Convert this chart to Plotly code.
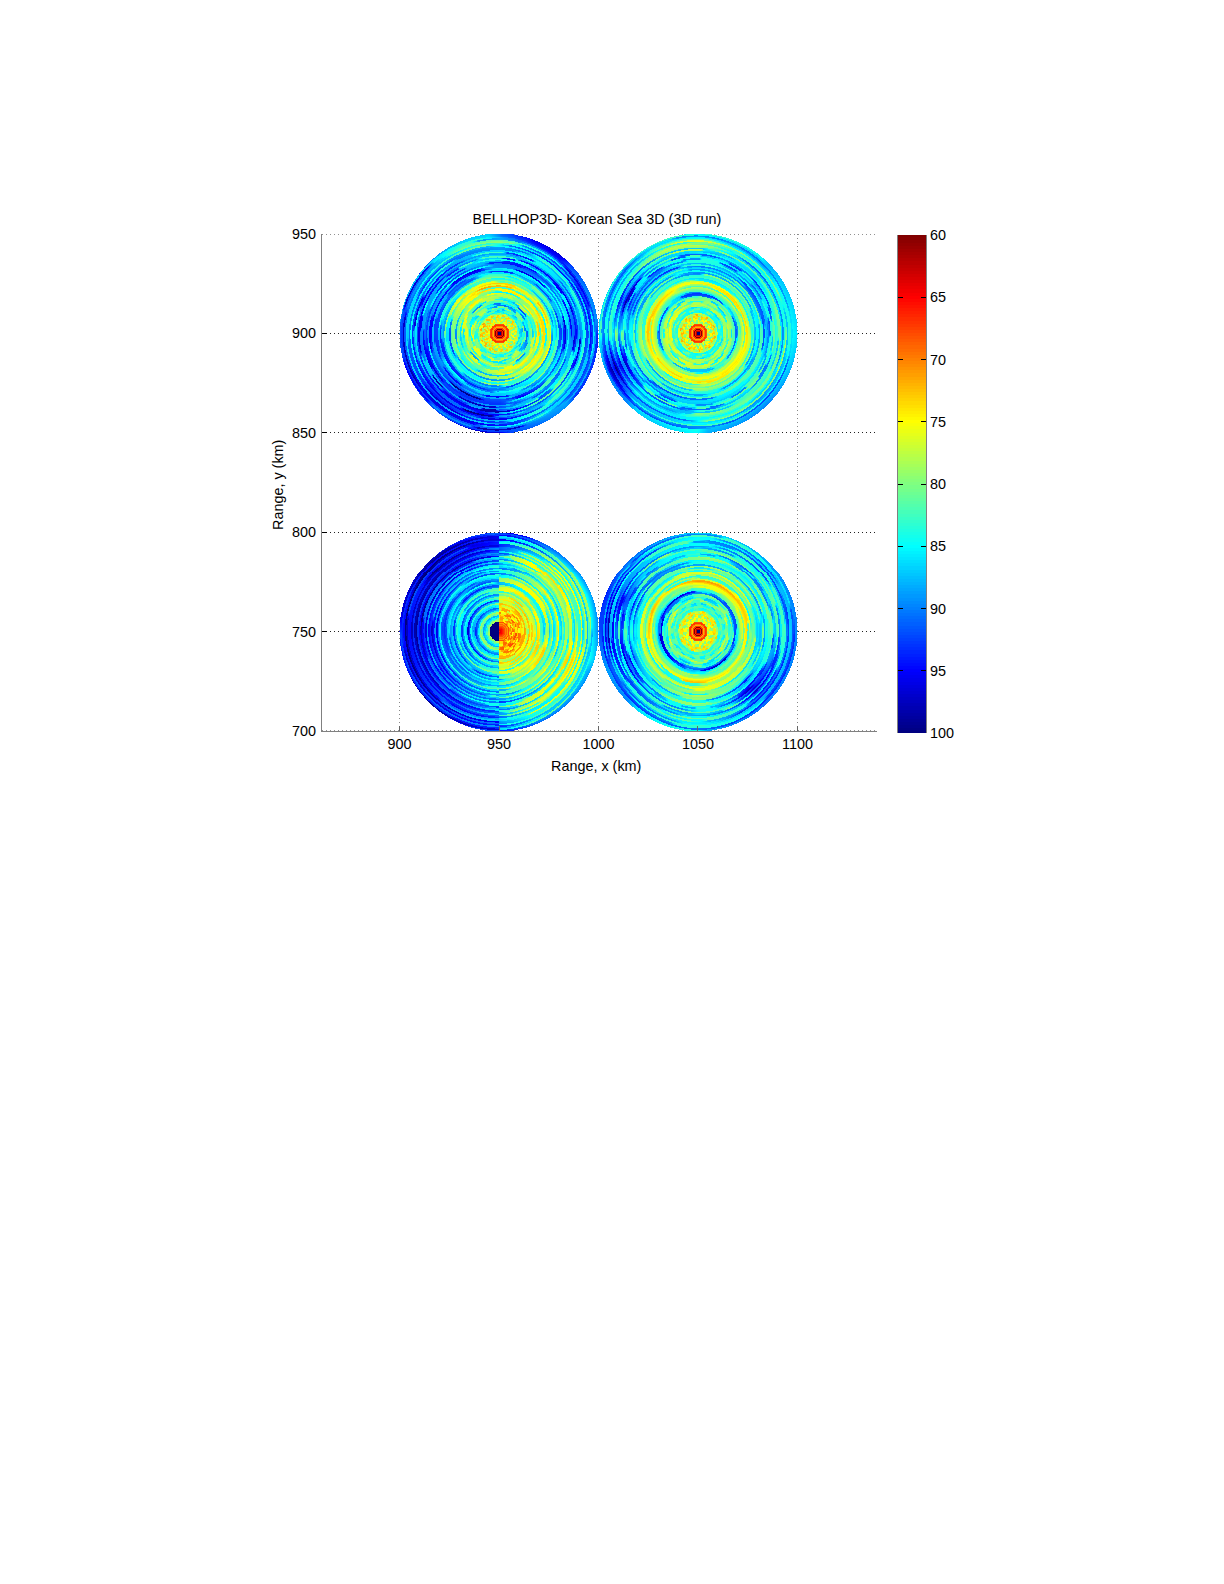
import numpy as np
import plotly.graph_objects as go

# ---- axes / labels ----
TITLE = "BELLHOP3D- Korean Sea 3D (3D run)"
X_LABEL = "Range, x (km)"
Y_LABEL = "Range, y (km)"
X_TICKS = [900, 950, 1000, 1050, 1100]
Y_TICKS = [700, 750, 800, 850, 900, 950]
CB_TICKS = [60, 65, 70, 75, 80, 85, 90, 95, 100]
SOURCES = {"UL": (950, 900), "UR": (1050, 900), "LL": (950, 750), "LR": (1050, 750)}
DISC_RADIUS = 50

# ---- transmission loss (dB) inside 5 km of each source, one value per 0.5 km ----
CORE_STD = [100, 100, 62, 66, 60, 67, 72, 70, 67, 68]
CORE_LL_E = [66, 64, 65, 66, 67, 68, 70, 69, 71, 68]
CORE_LL_W = [100, 100, 100, 100, 100, 100, 100, 100, 100, 100]

# ---- local mean TL (dB) by range (rows) and bearing (columns) ----
MEAN_RANGES = [10, 15, 20, 25, 30, 35, 40, 45, 50]
BEARINGS_FULL = [0, 22.5, 45, 67.5, 90, 112.5, 135, 157.5, 180, 202.5, 225, 247.5, 270, 292.5, 315, 337.5]
BEARINGS_EAST = [-90, -67.5, -45, -22.5, 0, 22.5, 45, 67.5, 90]
BEARINGS_WEST = [90, 112.5, 135, 157.5, 180, 202.5, 225, 247.5, 270]
UL_MEAN = [
    [79,78,78,78,78,78,77,76,77,77,77,78,78,78,78,79],
    [85,85,84,85,85,83,81,79,78,78,78,79,79,80,81,84],
    [77,77,78,79,80,79,78,80,83,83,81,81,80,79,78,77],
    [78,78,77,75,75,74,78,82,85,85,84,84,84,82,80,79],
    [86,86,85,86,87,86,85,86,86,87,87,87,88,86,82,84],
    [88,88,89,89,88,87,87,87,87,89,91,91,91,87,84,86],
    [92,89,87,86,84,85,87,88,89,90,92,92,91,86,83,87],
    [86,86,87,85,82,83,86,88,89,90,92,91,89,86,85,86],
    [88,88,91,90,85,85,88,89,90,90,90,90,91,89,87,87]]
UR_MEAN = [
    [78,78,78,78,78,78,78,78,77,78,78,78,78,78,78,78],
    [80,80,80,80,80,79,78,77,77,78,79,79,80,80,80,80],
    [85,85,85,86,86,86,85,85,85,84,82,81,80,81,82,84],
    [77,77,77,78,78,78,77,76,75,76,78,77,76,77,77,77],
    [83,83,82,82,83,82,81,82,82,82,83,83,83,83,83,83],
    [86,86,87,86,86,86,86,87,84,85,86,86,86,85,84,85],
    [85,85,87,86,85,86,89,93,83,92,85,85,84,84,83,84],
    [82,83,84,82,77,78,83,84,83,94,86,85,84,84,84,83],
    [84,85,86,85,84,84,85,85,83,87,88,88,86,87,88,86]]
LR_MEAN = [
    [78,78,78,78,78,78,78,78,78,78,78,78,78,78,78,78],
    [80,80,81,81,82,80,80,79,79,80,81,81,80,80,80,80],
    [84,83,83,84,84,87,89,90,90,89,87,86,86,88,89,86],
    [77,77,76,75,75,77,78,76,75,77,78,77,76,77,77,77],
    [82,81,80,79,80,81,82,81,80,81,81,80,79,80,81,82],
    [83,83,82,82,82,83,84,89,84,89,85,82,82,83,88,85],
    [86,85,85,83,82,83,85,90,86,90,85,83,82,84,93,88],
    [85,86,86,84,83,84,86,88,92,86,86,84,83,85,87,86],
    [88,88,87,85,85,87,88,92,90,87,88,86,85,87,88,88]]
LL_MEAN_EAST = [
    [73,72,72,72,72,73,73,74,74],
    [75,75,75,74,76,75,75,76,76],
    [79,79,78,76,77,78,77,77,79],
    [85,81,77,76,83,79,78,79,82],
    [83,82,79,82,78,80,78,82,85],
    [86,83,80,78,82,80,78,80,85],
    [85,80,78,76,80,78,77,79,87],
    [85,80,79,80,81,79,80,84,88],
    [90,86,85,84,88,87,88,90,91]]
LL_MEAN_WEST = [
    [82,82,82,83,83,82,82,82,82],
    [84,86,87,88,90,88,87,85,84],
    [84,86,87,87,87,87,86,85,84],
    [86,88,88,88,89,88,88,87,85],
    [85,86,88,90,90,89,88,86,85],
    [87,90,92,92,93,92,90,87,87],
    [91,94,94,94,95,94,93,91,88],
    [92,95,96,95,96,95,93,91,90],
    [93,96,96,94,94,94,94,93,92]]

# ---- ring detail (dB about the mean), 0.75 km per value from 5 km to 50 km, by quarter ----
UL_E = [-2,-2,1,-4,-4,0,3,6,6,2, 3,7,7,1,-1,-1,3,-3,-3,0, 0,6,-2,-2,-4,-4,1,-1,-1,8,
        2,2,-2,-2,5,1,1,7,2,-2, -2,3,6,1,1,-3,-3,4,8,2, -2,-2,5,5,1,-3,6,2,2,6]
UL_N = [1,-3,-3,2,-5,-5,2,7,7,3, -1,5,1,1,-2,9,2,2,-3,-3, 1,1,-4,-4,6,-2,-2,-5,-5,2,
        7,2,2,-3,6,6,1,-2,8,2, 2,6,1,-3,-3,4,2,7,-1,-1, -4,-4,3,7,1,1,-2,5,5,2]
UL_W = [-3,1,1,-4,3,-1,-1,5,2,7, 2,-2,-2,6,1,1,-4,-4,4,-1, -1,6,2,-3,-3,7,1,1,-2,4,
        4,-2,-2,6,2,2,-1,8,2,-3, 5,1,1,-2,7,7,2,-3,3,3, 1,6,-2,-2,2,8,3,-1,-1,6]
UL_S = [-1,-4,-4,2,2,-5,1,7,3,3, -2,-2,6,2,-3,-3,5,1,1,-4, -4,2,-3,-3,6,1,1,-2,5,2,
        2,7,3,-1,-1,6,2,2,9,2, 2,-2,6,1,1,7,3,-1,-1,4, 6,2,2,-3,5,5,1,8,2,2]
UR_E = [1,-3,-3,2,-5,-1,-1,6,6,3, 5,-2,-2,1,3,-3,-3,-1,7,7, 2,-3,-2,-2,-4,0,-3,-3,1,-1,
        4,-1,-1,2,6,2,-2,-2,6,1, 2,2,-2,-2,6,6,-1,3,3,-3, -3,1,1,-4,5,1,1,6,2,2]
UR_N = [-1,2,2,-4,-4,1,1,7,5,5, 7,2,-1,-1,-3,5,-2,-2,2,7, -1,-1,-3,-3,2,-4,-4,0,-1,6,
        2,2,-2,6,2,2,-3,5,1,1, -2,-2,4,0,0,-4,-1,-1,-4,-4, 2,6,1,1,-3,4,4,7,2,2]
UR_W = [-2,-2,3,-5,-5,2,0,7,2,6, 6,1,-2,-2,4,-3,-3,-1,-1,7, 1,-2,-2,-4,-4,2,-3,-3,0,5,
        2,2,7,-1,-1,5,2,2,-2,6, 4,4,-1,-1,2,6,2,-2,-2,6, 2,-1,-1,5,1,1,7,3,-1,-1]
UR_S = [2,2,-3,-3,1,-6,-1,6,6,2, 6,-1,-1,2,-2,-2,4,-3,-3,1, 5,0,0,-3,-3,-5,-2,-2,6,2,
        2,-2,6,1,1,5,-2,-2,7,2, 1,1,6,-3,-3,3,6,0,0,4, -1,-1,3,6,2,2,-2,5,5,2]
LR_E = [0,-3,-3,2,-4,-4,1,5,5,2, 2,6,1,1,-2,4,-1,-1,6,6, -2,-2,-1,-1,1,-3,-3,6,1,1,
        2,-3,-3,5,0,0,4,-2,-2,7, 1,1,-3,-3,5,2,2,-1,6,6, 2,-2,-2,4,7,1,1,-2,6,2]
LR_N = [-2,1,1,-3,-4,-4,1,6,3,3, 6,2,2,-3,3,-2,-2,5,4,2, -1,-1,-4,-4,-2,-2,-4,-4,2,6,
        1,1,-3,4,4,-2,2,7,1,1, 3,-2,-2,6,2,2,-3,4,4,0, -3,-3,2,6,1,1,-2,5,2,2]
LR_W = [-3,-3,2,-4,1,1,-5,5,5,2, 3,6,1,1,-2,5,2,-1,9,9, 1,1,-3,-3,0,-4,-4,-2,-2,5,
        0,-3,-3,4,1,1,-2,7,2,2, 5,-1,-1,2,6,2,2,-4,-4,6, 6,2,-2,-2,7,1,5,5,2,-1]
LR_S = [1,-3,-3,2,-5,-1,-1,4,6,2, 5,2,-2,-2,5,1,1,-3,9,9, 0,-4,-4,-1,-1,-3,-3,1,6,6,
        -2,-2,3,0,0,5,-1,-1,6,2, 2,-3,-3,5,1,7,7,-1,-1,3, 2,6,6,-2,2,5,-1,-1,6,3]
LL_NE = [-2,1,-3,0,-4,2,-1,-3,1,1, -2,-2,3,1,-3,4,0,0,-2,5, 2,-3,-3,4,7,0,-3,-3,5,2,
        -2,6,0,0,-4,3,7,1,4,-2, -2,5,1,-4,-4,6,0,-3,4,4, -3,6,2,-2,7,1,-3,5,2,2]
LL_SE = [1,-3,3,-2,0,-4,1,3,-3,-1, 2,-3,1,4,-2,0,-3,3,1,5, -3,-3,4,0,-2,6,1,-3,-3,4,
        2,-4,5,-1,-1,6,2,-3,4,1, 7,0,-4,-4,3,6,-1,4,-2,-2, 6,1,-3,4,4,-1,6,2,-2,5]
LL_NW = [-4,-1,3,5,-2,-3,1,6,8,3, 1,-3,2,6,-1,-4,2,4,-2,-2, -5,1,5,-1,2,-3,4,1,4,-1,
        2,6,0,4,-2,2,5,-2,2,-4, 4,-1,-3,3,1,-2,1,3,-2,1, -1,2,-3,1,4,-1,3,0,-2,2]
LL_SW = [-3,1,4,6,-1,-4,2,5,7,2, 0,-4,3,7,-2,-3,1,5,-1,2, -4,-3,2,6,0,3,-2,3,0,3,
        -2,-4,1,5,-1,3,-3,1,4,-1, 3,-3,1,5,0,-2,4,2,-1,2, 4,-1,2,5,0,3,-2,2,5,0]

# ---- rings break into arcs: how many arcs per quarter-turn set, and the bearing (deg) of the first break, per ring ----
ARC_SPLIT = [10,12,10,14,12,10,8,12,8,10, 6,8,4,6,3,4,6,3,2,4, 4,2,3,2,1,2,1,3,2,1,
             2,1,3,1,2,4,2,1,3,2, 1,3,6,2,8,3,1,2,4,1, 2,1,3,1,1,2,1,3,1,2]
ARC_TWIST = [0,30,75,15,60,40,85,20,50,10, 35,80,5,55,25,70,45,15,90,30, 60,10,75,35,20,85,50,5,65,40,
             15,55,80,25,45,70,10,35,90,60, 20,65,40,5,75,30,50,85,15,55, 35,70,10,45,25,80,5,60,40,20]

# ---- how far rings drift from true circles at the disc edge (km), by bearing ----
UL_DRIFT = [0.5,1,1.5,1.5,1,0.5,-0.5,-1,-1.5,-1.5,-1,-0.5,0,0.5,0.5,0.5]
UR_DRIFT = [1,1,0.5,0,-0.5,-1,-1,-0.5,0,0.5,1,1.5,1.5,1,1,1]
LR_DRIFT = [0.5,0,-0.5,-1,-1,-0.5,0,0.5,1,1,1,0.5,0,0,0.5,0.5]
LL_DRIFT = [1.5,1,0.5,0,-0.5,-1,-1.5,-2,-2,-1.5,-1,-0.5,0,0.5,1,1.5]

# Reversed jet: 60 dB dark red ... 100 dB navy
JET = [[0.0, "#800000"], [0.125, "#ff0000"], [0.375, "#ffff00"],
       [0.625, "#00ffff"], [0.875, "#0000ff"], [1.0, "#000080"]]

W, H = 1224, 1584
AX_L, AX_R, AX_T, AX_B = 322, 877, 234, 731
CB_L, CB_R, CB_T, CB_B = 898, 926, 235, 733
STEP = 0.5
RING_KM = 0.75


def mean_field(r, th, table, bearings, period=None):
    rows = np.stack([np.interp(th, bearings, row, period=period) for row in table])
    pos = np.interp(r, MEAN_RANGES, np.arange(len(MEAN_RANGES)))
    i0 = pos.astype(int)
    i1 = np.minimum(i0 + 1, len(MEAN_RANGES) - 1)
    f = pos - i0
    yy, xx = np.indices(r.shape)
    return (1 - f) * rows[i0, yy, xx] + f * rows[i1, yy, xx]


def weight(th, centre, inner, outer):
    d = np.abs((th - centre + 180) % 360 - 180)
    return np.clip((outer - d) / (outer - inner), 0, 1)


def disc_grid(key, quarters, drift):
    cx, cy = SOURCES[key]
    xs = cx + np.arange(-DISC_RADIUS, DISC_RADIUS + STEP / 2, STEP)
    ys = cy + np.arange(-DISC_RADIUS, DISC_RADIUS + STEP / 2, STEP)
    xx, yy = np.meshgrid(xs, ys)
    dx, dy = xx - cx, yy - cy
    r = np.hypot(dx, dy)
    th = np.degrees(np.arctan2(dy, dx)) % 360
    r_eff = np.clip(r + np.interp(th, BEARINGS_FULL, drift, period=360) * r / DISC_RADIUS, 0, 49.99)
    ring = np.clip(((r_eff - 5) / RING_KM).astype(int), 0, 59)
    th_arc = ((th + np.array(ARC_TWIST, float)[ring]) * np.array(ARC_SPLIT, float)[ring]) % 360
    detail = np.zeros(r.shape)
    total = np.zeros(r.shape)
    for centre, side, profile in quarters:
        if key == "LL":
            w = weight(th_arc, centre, 82.5, 97.5)
            w = np.where((dx >= 0) == (side == "E"), w, 0.0)
        else:
            w = weight(th_arc, centre, 37.5, 52.5)
        detail += w * np.array(profile, float)[ring]
        total += w
    detail = detail / np.maximum(total, 1e-6)
    core_i = np.clip((r / 0.5).astype(int), 0, 9)
    if key == "LL":
        mean = np.where(dx >= 0,
                        mean_field(r, (th + 180) % 360 - 180, LL_MEAN_EAST, BEARINGS_EAST),
                        mean_field(r, th, LL_MEAN_WEST, BEARINGS_WEST))
        core = np.where(dx >= 0, np.array(CORE_LL_E, float)[core_i], np.array(CORE_LL_W, float)[core_i])
    else:
        table = {"UL": UL_MEAN, "UR": UR_MEAN, "LR": LR_MEAN}[key]
        mean = mean_field(r, th, table, BEARINGS_FULL, period=360)
        core = np.array(CORE_STD, float)[core_i]
    z = np.where(r < 5, core, mean + detail)
    z = np.where(r <= DISC_RADIUS, np.round(z, 1), np.nan)
    return xs, ys, z


DISCS = [
    ("UL", [(0, "", UL_E), (90, "", UL_N), (180, "", UL_W), (270, "", UL_S)], UL_DRIFT),
    ("UR", [(0, "", UR_E), (90, "", UR_N), (180, "", UR_W), (270, "", UR_S)], UR_DRIFT),
    ("LL", [(90, "E", LL_NE), (90, "W", LL_NW), (270, "W", LL_SW), (270, "E", LL_SE)], LL_DRIFT),
    ("LR", [(0, "", LR_E), (90, "", LR_N), (180, "", LR_W), (270, "", LR_S)], LR_DRIFT),
]

fig = go.Figure()
for key, quarters, drift in DISCS:
    xs, ys, z = disc_grid(key, quarters, drift)
    fig.add_trace(go.Heatmap(x=xs.tolist(), y=ys.tolist(),
                             z=[[None if np.isnan(v) else float(v) for v in row] for row in z],
                             zmin=60, zmax=100, colorscale=JET, showscale=False,
                             hoverinfo="skip", xaxis="x", yaxis="y"))

cb_levels = np.linspace(60, 100, 161)
fig.add_trace(go.Heatmap(x=[0, 1], y=cb_levels.tolist(),
                         z=[[float(v), float(v)] for v in cb_levels],
                         zmin=60, zmax=100, colorscale=JET, showscale=False,
                         hoverinfo="skip", xaxis="x2", yaxis="y2"))

FONT = "Liberation Sans, Arial, sans-serif"
fig.update_layout(
    width=W, height=H, margin=dict(l=0, r=0, t=0, b=0, autoexpand=False),
    paper_bgcolor="white", plot_bgcolor="white", showlegend=False,
    font=dict(family=FONT, size=14.4, color="black"),
    title=dict(text=TITLE, x=597 / W, xanchor="center", y=1 - 219 / H, yanchor="middle",
               font=dict(size=14.4)),
    xaxis=dict(domain=[AX_L / W, AX_R / W], range=[861, 1140], tickvals=X_TICKS,
               ticks="inside", ticklen=5, tickcolor="#666666", showline=True, linecolor="#808080",
               showgrid=True, gridcolor="#888888", griddash="1px,3px", gridwidth=1,
               zeroline=False, anchor="y", ticklabelstandoff=0),
    yaxis=dict(domain=[1 - AX_B / H, 1 - AX_T / H], range=[700, 950], tickvals=Y_TICKS,
               ticks="inside", ticklen=5, tickcolor="#000000", showline=True, linecolor="#808080",
               showgrid=True, gridcolor="#222222", griddash="1px,3px", gridwidth=1,
               zeroline=False, anchor="x", ticklabelstandoff=2),
    xaxis2=dict(domain=[CB_L / W, CB_R / W], range=[0, 1], showticklabels=False, ticks="",
                showgrid=False, zeroline=False, showline=False, anchor="y2"),
    yaxis2=dict(domain=[1 - CB_B / H, 1 - CB_T / H], range=[100, 60], tickvals=CB_TICKS,
                side="right", ticks="inside", ticklen=5, tickcolor="#000000", mirror="ticks",
                showline=True, linecolor="#808080", showgrid=False, zeroline=False,
                anchor="x2", ticklabelstandoff=0),
    annotations=[
        dict(text=X_LABEL, xref="paper", yref="paper", x=596 / W, y=1 - 766 / H,
             showarrow=False, xanchor="center", yanchor="middle"),
        dict(text=Y_LABEL, xref="paper", yref="paper", x=278 / W, y=1 - 485 / H,
             showarrow=False, xanchor="center", yanchor="middle", textangle=-90),
    ],
)
for y_edge in (Y_TICKS[0], Y_TICKS[-1]):
    fig.add_shape(type="line", xref="x", yref="y", x0=861, x1=1140, y0=y_edge, y1=y_edge,
                  line=dict(color="#222222", width=1, dash="1px,3px"), layer="below")

fig.write_html("out.html", config={"displayModeBar": False},
               post_script="document.body.style.margin='0';")
